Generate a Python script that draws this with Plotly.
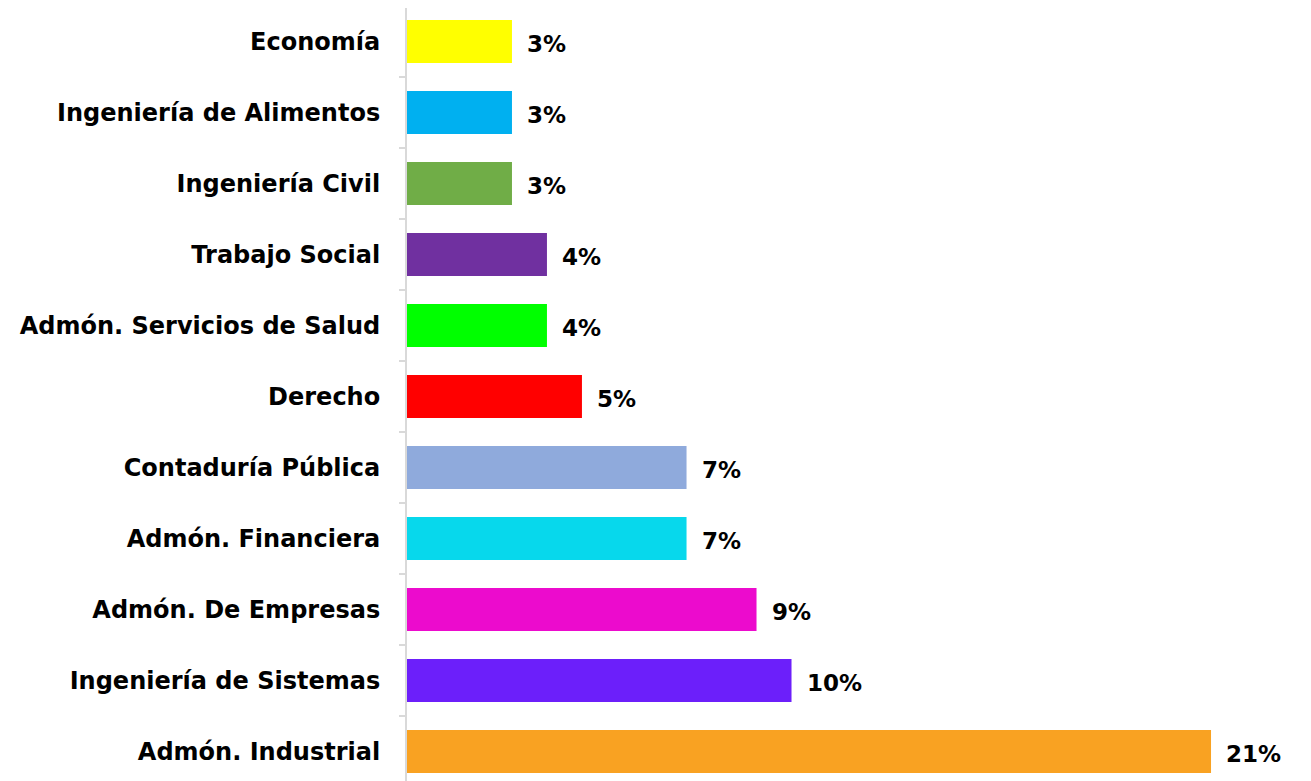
import plotly.graph_objects as go

categories = ["Economía", "Ingeniería de Alimentos", "Ingeniería Civil", "Trabajo Social",
              "Admón. Servicios de Salud", "Derecho", "Contaduría Pública", "Admón. Financiera",
              "Admón. De Empresas", "Ingeniería de Sistemas", "Admón. Industrial"]
values = [2.73, 2.73, 2.73, 3.64, 3.64, 4.55, 7.27, 7.27, 9.09, 10.0, 20.91]
labels = ["3%", "3%", "3%", "4%", "4%", "5%", "7%", "7%", "9%", "10%", "21%"]
colors = ["#FFFF00", "#00B0F0", "#70AD47", "#7030A0", "#00FF00", "#FF0000",
          "#8FAADC", "#07D8EC", "#EC0BCD", "#6C1FFA", "#F9A222"]

FONT = "DejaVu Sans"

fig = go.Figure()
fig.add_trace(go.Bar(
    y=categories, x=values, orientation="h",
    marker=dict(color=colors, line=dict(width=0)),
    hoverinfo="skip",
))
for c, v, t in zip(categories, values, labels):
    fig.add_annotation(x=v, y=c, text=t, showarrow=False, xanchor="left", xshift=13, yshift=-2,
                       font=dict(family=FONT, size=23, color="#000000", weight="bold"))

fig.update_layout(
    width=1303, height=773,
    margin=dict(l=399, r=40, t=0, b=0),
    paper_bgcolor="white", plot_bgcolor="white",
    bargap=0.394,
    showlegend=False,
    xaxis=dict(range=[0, 22.47], visible=False, fixedrange=True),
    yaxis=dict(
        categoryorder="array", categoryarray=categories,
        range=[10.415, -0.472],
        showline=True, linecolor="#D9D9D9", linewidth=2,
        ticks="outside", tickson="boundaries", ticklen=6, tickcolor="#D9D9D9", tickwidth=2,
        showgrid=False, zeroline=False,
        tickfont=dict(family=FONT, size=24, color="#000000", weight="bold"),
        ticklabelstandoff=20,
    ),
)

fig.write_html("out.html")
